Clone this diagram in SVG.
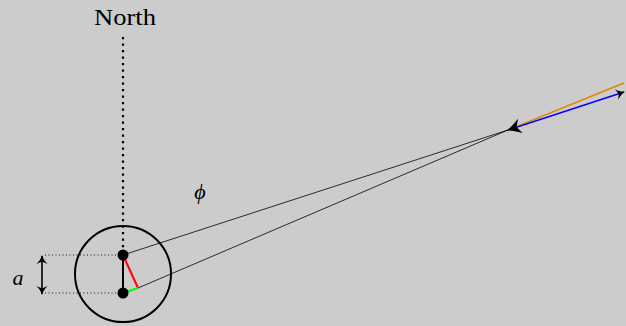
<svg xmlns="http://www.w3.org/2000/svg" width="626" height="326" viewBox="0 0 626 326">
<style>
.t{font-family:"Liberation Serif","DejaVu Serif",serif;fill:#000}
.thin{stroke:#000;stroke-width:0.8;fill:none}
</style>
<defs>
<marker id="ah" viewBox="-10 -6 12 12" refX="0" refY="0" markerWidth="12" markerHeight="12" markerUnits="userSpaceOnUse" orient="auto-start-reverse">
<path d="M1,0 C-3,-1 -6,-3.5 -8,-5.5 L-5.5,0 L-8,5.5 C-6,3.5 -3,1 1,0Z" fill="#000"/>
</marker>
<marker id="ahL" viewBox="-16 -9 18 18" refX="0" refY="0" markerWidth="18" markerHeight="18" markerUnits="userSpaceOnUse" orient="auto-start-reverse">
<path d="M1.5,0 C-4.5,-1.5 -9,-5 -13,-7.5 L-9,0 L-13,7.5 C-9,5 -4.5,1.5 1.5,0Z" fill="#000"/>
</marker>
</defs>
<rect width="626" height="326" fill="#cccccc"/>
<g id="connectors">
<line x1="123" y1="37" x2="123" y2="252" stroke="#000" stroke-width="2.2" stroke-dasharray="2.2 4.3"/>
<line x1="45" y1="255" x2="123" y2="255" stroke="#000" stroke-width="0.9" stroke-dasharray="1 2.5"/>
<line x1="45" y1="293" x2="123" y2="293" stroke="#000" stroke-width="0.9" stroke-dasharray="1 2.5"/>
<line x1="42" y1="256" x2="42" y2="294" stroke="#000" stroke-width="1.6" marker-start="url(#ah)" marker-end="url(#ah)"/>
<line x1="123" y1="255" x2="508" y2="130" class="thin"/>
<line x1="138" y1="288" x2="508" y2="130" class="thin"/>
<line x1="123" y1="255" x2="123" y2="293" stroke="#000" stroke-width="2"/>
<line x1="123" y1="255" x2="138" y2="288" stroke="#ff0000" stroke-width="2"/>
<line x1="123" y1="293" x2="138" y2="288" stroke="#00ff00" stroke-width="2"/>
<line x1="508" y1="130" x2="624" y2="83" stroke="#e08800" stroke-width="1.6"/>
<line x1="508" y1="130" x2="624" y2="92" stroke="#0000ff" stroke-width="1.6" marker-end="url(#ah)"/>
<line x1="508" y1="130" x2="520" y2="126.07" stroke="none" marker-start="url(#ahL)"/>
</g>
<g id="earth">
<circle cx="123" cy="274" r="48" fill="none" stroke="#000" stroke-width="2"/>
</g>
<g id="dot-top"><circle cx="123" cy="255" r="5.5" fill="#000"/></g>
<g id="dot-bottom"><circle cx="123" cy="293" r="5.5" fill="#000"/></g>
<g id="label-north"><text class="t" x="125" y="25" font-size="24" text-anchor="middle" textLength="62" lengthAdjust="spacingAndGlyphs">North</text></g>
<g id="label-phi"><text class="t" x="200" y="199" font-size="22" font-style="italic" text-anchor="middle">ϕ</text></g>
<g id="label-a"><text class="t" x="18" y="285" font-size="22" font-style="italic" text-anchor="middle">a</text></g>
</svg>
